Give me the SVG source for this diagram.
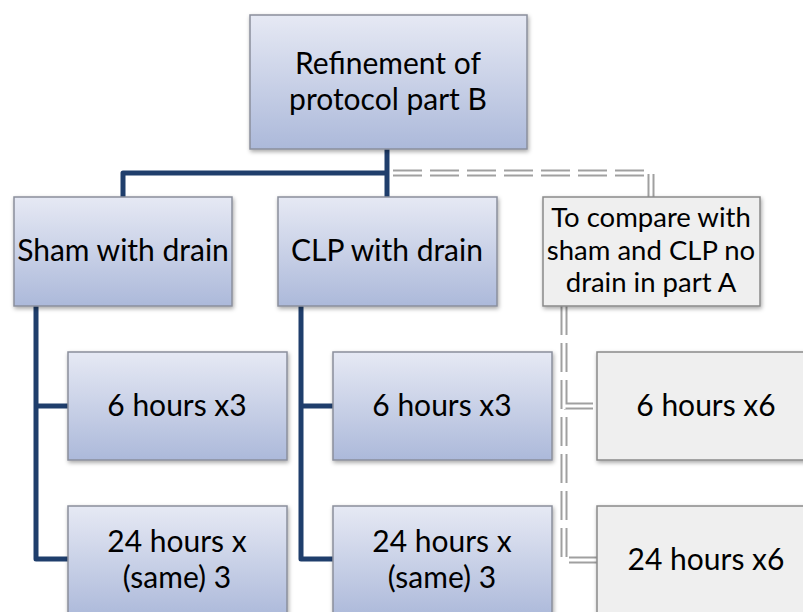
<svg xmlns="http://www.w3.org/2000/svg" width="803" height="612" viewBox="0 0 803 612">
<defs>
<linearGradient id="blue" x1="0" y1="0" x2="0" y2="1">
<stop offset="0" stop-color="#e6e9f4"/>
<stop offset="1" stop-color="#acb9da"/>
</linearGradient>
<filter id="sh" x="-10%" y="-10%" width="130%" height="130%">
<feDropShadow dx="1" dy="2" stdDeviation="2" flood-color="#000" flood-opacity="0.35"/>
</filter>
</defs>
<style>
.b{fill:url(#blue);stroke:#8a8f9c;stroke-width:1.5;filter:url(#sh)}
.g{fill:#efefef;stroke:#8a8a8a;stroke-width:1.5;filter:url(#sh)}
text{font-family:Lato,"Open Sans","Liberation Sans",sans-serif;fill:#000;text-anchor:middle}
.t{font-size:30px}
.s{font-size:27.5px}
.solid{fill:none;stroke:#1f3e6c;stroke-width:5;stroke-linejoin:round}
.d1{fill:none;stroke:#a0a0a0;stroke-width:7;stroke-dasharray:29 8}
.d2{fill:none;stroke:#fff;stroke-width:3;stroke-dasharray:29 8}
</style>
<rect width="803" height="612" fill="#fff"/>
<g id="connectors">
<path class="solid" d="M387,149 V197 M387,173 H123 V197"/>
<path class="solid" d="M36,306 V559 H68 M36,406 H68"/>
<path class="solid" d="M301,306 V559 H333 M301,406 H333"/>
<path class="d1" d="M393,173 H651 V197"/>
<path class="d2" d="M393,173 H651 V197"/>
<path class="d1" d="M564,306 V560 H597 M564,406 H597"/>
<path class="d2" d="M564,306 V560 H597 M564,406 H597"/>
</g>
<g id="root">
<rect class="b" x="250" y="15" width="277" height="134"/>
<text class="t" x="388" y="74">Refinement of</text>
<text class="t" x="388" y="110">protocol part B</text>
</g>
<g id="sham">
<rect class="b" x="14" y="197" width="218" height="109"/>
<text class="t" x="123" y="261">Sham with drain</text>
</g>
<g id="clp">
<rect class="b" x="278" y="197" width="219" height="109"/>
<text class="t" x="387" y="261">CLP with drain</text>
</g>
<g id="compare">
<rect class="g" x="543" y="197" width="217" height="109"/>
<text class="s" x="651" y="227">To compare with</text>
<text class="s" x="651" y="260">sham and CLP no</text>
<text class="s" x="651" y="292">drain in part A</text>
</g>
<g id="sham6">
<rect class="b" x="68" y="352" width="219" height="108"/>
<text class="t" x="177" y="416">6 hours x3</text>
</g>
<g id="sham24">
<rect class="b" x="68" y="506" width="219" height="112"/>
<text class="t" x="177" y="552">24 hours x</text>
<text class="t" x="177" y="588">(same) 3</text>
</g>
<g id="clp6">
<rect class="b" x="333" y="352" width="219" height="108"/>
<text class="t" x="442" y="416">6 hours x3</text>
</g>
<g id="clp24">
<rect class="b" x="333" y="506" width="219" height="112"/>
<text class="t" x="442" y="552">24 hours x</text>
<text class="t" x="442" y="588">(same) 3</text>
</g>
<g id="cmp6">
<rect class="g" x="597" y="352" width="219" height="108"/>
<text class="t" x="706" y="416">6 hours x6</text>
</g>
<g id="cmp24">
<rect class="g" x="597" y="506" width="219" height="112"/>
<text class="t" x="706" y="570">24 hours x6</text>
</g>
</svg>
